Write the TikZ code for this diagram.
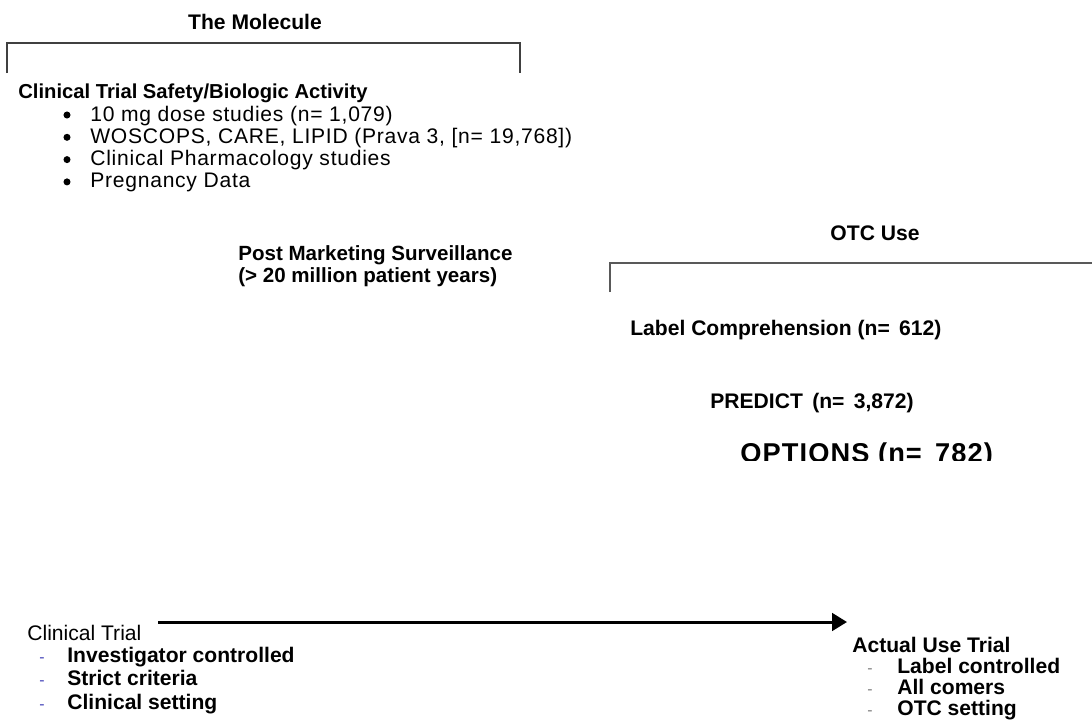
\documentclass[tikz,border=0pt]{standalone}
\usepackage{fontspec}
\setmainfont{Liberation Sans}
\usetikzlibrary{arrows.meta}

\begin{document}
\begin{tikzpicture}[x=0.02cm, y=-0.02cm, >={Triangle[length=8.5pt, width=10pt]},
	every node/.style={font=\fontsize{12}{13}\selectfont, inner sep=0pt},
	hd/.style={font=\fontsize{12}{13}\selectfont\bfseries},
	bulletitem/.style={font=\fontsize{12}{13}\selectfont\addfontfeature{LetterSpace=3.5}},
	dashmark/.style={font=\fontsize{9}{10}\selectfont, anchor=base},
	bracket/.style={line width=0.8pt, black!75}]
	\useasboundingbox (0,0) rectangle (1092,721);
	\draw[bracket] (7,73) -- (7,43) -- (520,43) -- (520,73);
	\node[hd] (mol) at (255,22) {The Molecule};
	\node[hd, font=\fontsize{11.5}{13}\selectfont\bfseries, anchor=west] (ctsafety) at (18,93) {Clinical Trial Safety/Biologic Activity};
	\foreach \txt [count=\i] in {{10 mg dose studies (n= 1,079)}, {WOSCOPS, CARE, LIPID (Prava 3, [n= 19,768])}, {Clinical Pharmacology studies}, {Pregnancy Data}} {
		\fill (67,{115+22.3*(\i-1)}) circle (2pt);
		\node[bulletitem, anchor=base west] (item\i) at (90,{121+22.3*(\i-1)}) {\txt};
	}
	\node[hd, font=\fontsize{11.7}{12.6}\selectfont\bfseries, anchor=north west, align=left] (pms) at (238,245) {Post Marketing Surveillance\\(> 20 million patient years)};
	\node[hd] (otc) at (875,233) {OTC Use};
	\draw[bracket, line width=1.2pt, black!65] (610,292) -- (610,263) -- (1092,263);
	\node[hd, anchor=west] (labelcomp) at (630,330) {Label Comprehension (n=\, 612)};
	\node[hd, anchor=west] (predict) at (710,403) {PREDICT\, (n=\, 3,872)};
	\begin{scope}
		\clip (700,425) rectangle (1092,460);
		\node[hd, font=\fontsize{15.5}{17}\selectfont\bfseries\addfontfeature{LetterSpace=4}, anchor=west] (options) at (740,455) {OPTIONS (n=\, 782)};
	\end{scope}
	\coordinate (arrowstart) at (158,622);
	\coordinate (arrowend) at (847,622);
	\draw[->, line width=1.7pt] (arrowstart) -- (arrowend);
	\node[anchor=base west] (ctrial) at (27,640) {Clinical Trial};
	\foreach \txt/\y [count=\i] in {Investigator controlled/662, Strict criteria/685.5, Clinical setting/709} {
		\node[dashmark, text=blue!45!gray] (ctdash\i) at (42,\y) {-};
		\node[hd, anchor=base west] (ctitem\i) at (67,\y) {\txt};
	}
	\node[hd, anchor=base west] (autrial) at (852,652) {Actual Use Trial};
	\foreach \txt/\y [count=\i] in {Label controlled/673, All comers/694.5, OTC setting/715} {
		\node[dashmark, text=gray] (autdash\i) at (870,\y) {-};
		\node[hd, anchor=base west] (autitem\i) at (897,\y) {\txt};
	}
\end{tikzpicture}
\end{document}
